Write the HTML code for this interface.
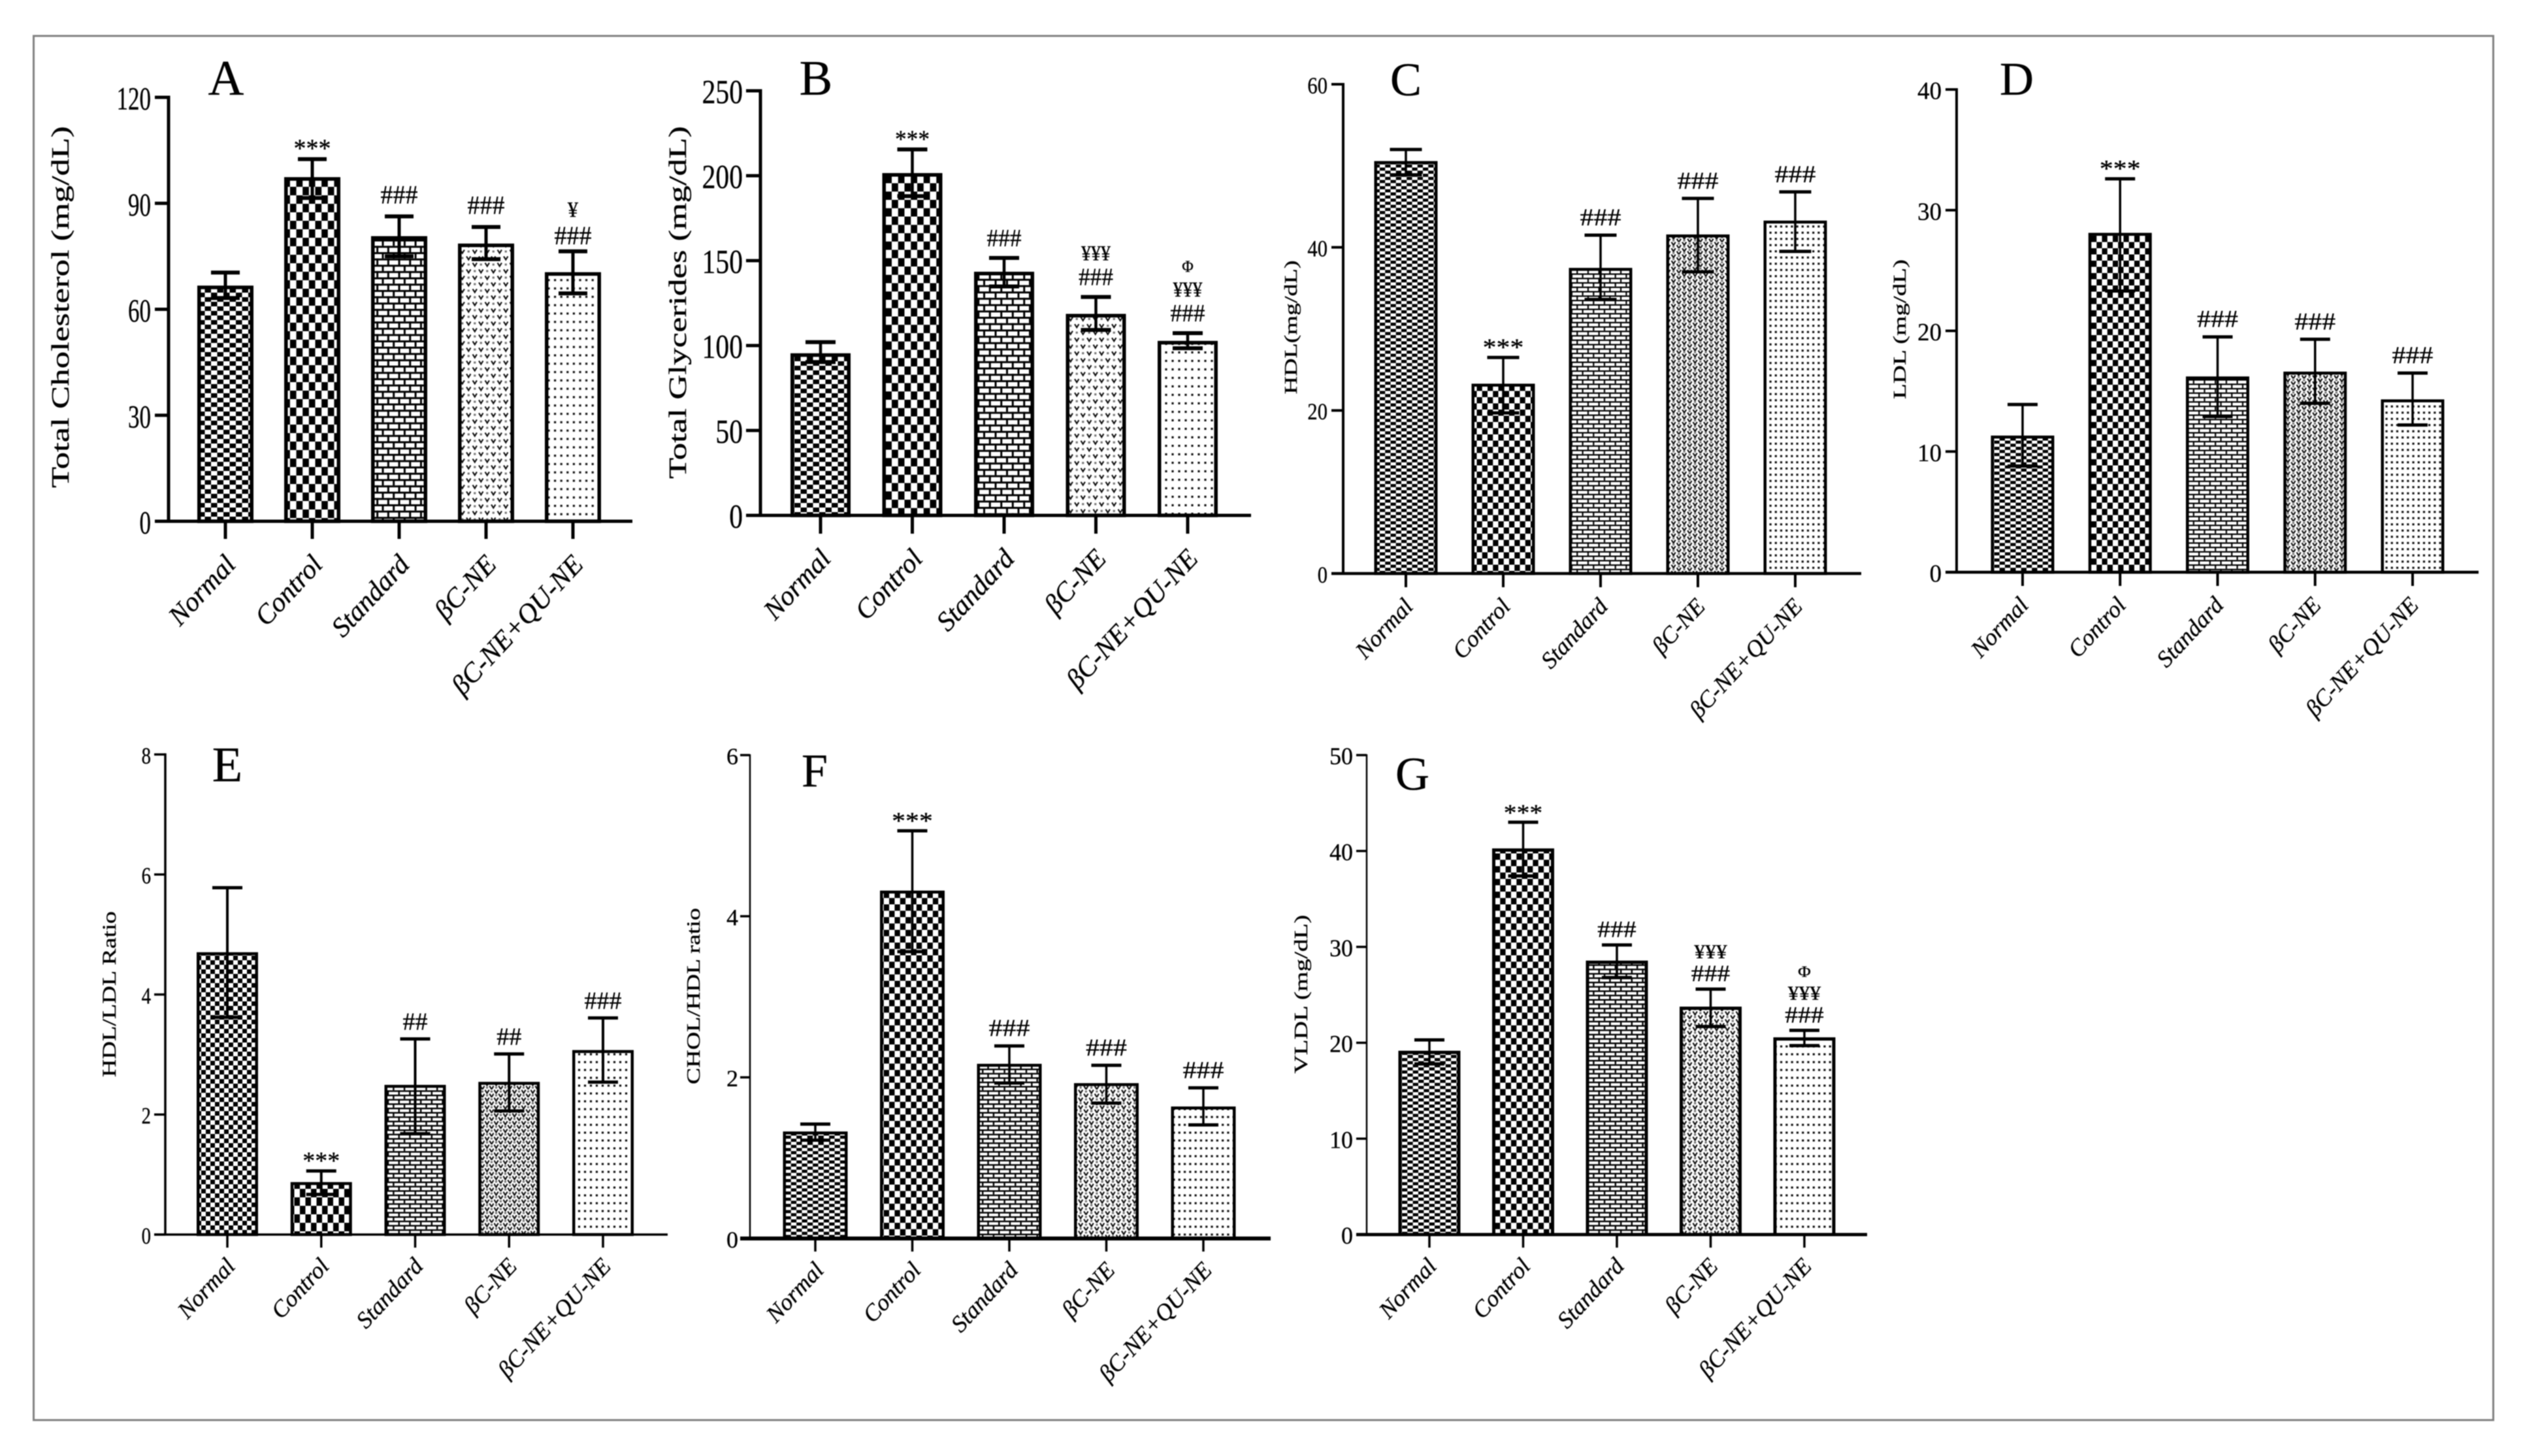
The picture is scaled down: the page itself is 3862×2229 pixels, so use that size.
<!DOCTYPE html>
<html lang="en">
<head>
<meta charset="utf-8">
<title>Lipid profile bar charts</title>
<style>
html,body{margin:0;padding:0;background:#fff;}
body{width:3862px;height:2229px;overflow:hidden;}
svg{display:block;filter:blur(0.7px);}
text{font-family:"Liberation Serif","Noto Serif CJK SC",serif;fill:#000;stroke:#000;stroke-width:0.35px;}
</style>
</head>
<body>
<svg id="figure" xmlns="http://www.w3.org/2000/svg" width="3862" height="2229" viewBox="0 0 3862 2229">
<rect x="0" y="0" width="3862" height="2229" fill="#fff"/>
<rect x="51.5" y="55" width="3765" height="2119" fill="none" stroke="#808080" stroke-width="3"/>
<defs id="defs"></defs>
</svg>
<script>
const categories = ["Normal", "Control", "Standard", "βC-NE", "βC-NE+QU-NE"];

const panelATicks = [0, 30, 60, 90, 120];
const panelAMeans = [66.2, 96.9, 80.2, 78.1, 70];
const panelAUpper = [70.4, 102.5, 86.3, 83.3, 76.4];
const panelALower = [63.2, 91.5, 75, 74.2, 64.5];
const panelAMarks = [[], ["***"], ["###"], ["###"], ["###", "¥"]];

const panelBTicks = [0, 50, 100, 150, 200, 250];
const panelBMeans = [94.4, 200.5, 142.4, 117.6, 101.7];
const panelBUpper = [102, 215.5, 151.6, 128.6, 107.3];
const panelBLower = [90.3, 188, 134.8, 109.2, 98.4];
const panelBMarks = [[], ["***"], ["###"], ["###", "¥¥¥"], ["###", "¥¥¥", "Φ"]];

const panelCTicks = [0, 20, 40, 60];
const panelCMeans = [50.4, 23.1, 37.3, 41.4, 43.1];
const panelCUpper = [52, 26.5, 41.5, 46, 46.8];
const panelCLower = [48.9, 19.7, 33.6, 37, 39.5];
const panelCMarks = [[], ["***"], ["###"], ["###"], ["###"]];

const panelDTicks = [0, 10, 20, 30, 40];
const panelDMeans = [11.2, 28, 16.1, 16.5, 14.2];
const panelDUpper = [13.9, 32.6, 19.5, 19.3, 16.5];
const panelDLower = [8.8, 23.3, 12.9, 14, 12.2];
const panelDMarks = [[], ["***"], ["###"], ["###"], ["###"]];

const panelETicks = [0, 2, 4, 6, 8];
const panelEMeans = [4.68, 0.85, 2.47, 2.52, 3.05];
const panelEUpper = [5.78, 1.06, 3.26, 3.01, 3.61];
const panelELower = [3.62, 0.67, 1.68, 2.06, 2.54];
const panelEMarks = [[], ["***"], ["##"], ["##"], ["###"]];

const panelFTicks = [0, 2, 4, 6];
const panelFMeans = [1.31, 4.3, 2.15, 1.91, 1.62];
const panelFUpper = [1.42, 5.06, 2.39, 2.15, 1.87];
const panelFLower = [1.22, 3.56, 1.93, 1.68, 1.41];
const panelFMarks = [[], ["***"], ["###"], ["###"], ["###"]];

const panelGTicks = [0, 10, 20, 30, 40, 50];
const panelGMeans = [19, 40.1, 28.4, 23.6, 20.4];
const panelGUpper = [20.3, 43, 30.2, 25.6, 21.3];
const panelGLower = [17.8, 37.4, 26.8, 21.7, 19.7];
const panelGMarks = [[], ["***"], ["###"], ["###", "¥¥¥"], ["###", "¥¥¥", "Φ"]];

const NS = "http://www.w3.org/2000/svg";
const svg = document.getElementById("figure");
const defs = document.getElementById("defs");

function mk(tag, attrs, parent) {
  const el = document.createElementNS(NS, tag);
  for (const k in attrs) el.setAttribute(k, attrs[k]);
  parent.appendChild(el);
  return el;
}

function checkerPattern(id, w, h) {
  const p = mk("pattern", {id: id, patternUnits: "userSpaceOnUse", width: w, height: h}, defs);
  mk("rect", {width: w, height: h, fill: "#fff"}, p);
  mk("rect", {x: 0, y: 0, width: w / 2, height: h / 2, fill: "#000"}, p);
  mk("rect", {x: w / 2, y: h / 2, width: w / 2, height: h / 2, fill: "#000"}, p);
}
function brickPattern(id, w, h, m) {
  const p = mk("pattern", {id: id, patternUnits: "userSpaceOnUse", width: w, height: h}, defs);
  mk("rect", {width: w, height: h, fill: "#fff"}, p);
  mk("rect", {x: 0, y: 0, width: w, height: m, fill: "#000"}, p);
  mk("rect", {x: 0, y: h / 2, width: w, height: m, fill: "#000"}, p);
  mk("rect", {x: 0, y: 0, width: m, height: h / 2, fill: "#000"}, p);
  mk("rect", {x: w / 2, y: h / 2, width: m, height: h / 2, fill: "#000"}, p);
}
function veePattern(id, w, h) {
  const p = mk("pattern", {id: id, patternUnits: "userSpaceOnUse", width: w, height: h}, defs);
  mk("rect", {width: w, height: h, fill: "#fff"}, p);
  const s = Math.min(w / 4, 3.2);
  [[w / 4, h / 4], [3 * w / 4, 3 * h / 4]].forEach(function (c) {
    mk("path", {d: "M" + (c[0] - s) + " " + (c[1] - s * 0.8) + "L" + c[0] + " " + (c[1] + s * 0.8) + "L" + (c[0] + s) + " " + (c[1] - s * 0.8), fill: "none", stroke: "#111", "stroke-width": 2.2}, p);
  });
  [[3 * w / 4, h / 4], [w / 4, 3 * h / 4]].forEach(function (c) {
    mk("rect", {x: c[0] - 1.6, y: c[1] - 1.6, width: 3.2, height: 3.2, fill: "#777"}, p);
  });
}
function dotPattern(id, w, h) {
  const p = mk("pattern", {id: id, patternUnits: "userSpaceOnUse", width: w, height: h}, defs);
  mk("rect", {width: w, height: h, fill: "#fff"}, p);
  mk("rect", {x: w / 2 - 1.6, y: h / 2 - 1.6, width: 3.2, height: 3.2, fill: "#111"}, p);
}

function drawPanel(cfg) {
  const id = cfg.letter.toLowerCase();
  const top = cfg.ticks[cfg.ticks.length - 1];
  const yOf = function (v) { return cfg.y0 - (v / top) * (cfg.y0 - cfg.yTop); };
  const xOf = function (i) { return cfg.firstX + i * cfg.stepX; };

  checkerPattern("p-" + id + "-0", cfg.fillNormal[0], cfg.fillNormal[1]);
  checkerPattern("p-" + id + "-1", cfg.fillControl[0], cfg.fillControl[1]);
  brickPattern("p-" + id + "-2", cfg.fillBrick[0], cfg.fillBrick[1], cfg.mortar);
  veePattern("p-" + id + "-3", cfg.fillVee[0], cfg.fillVee[1]);
  dotPattern("p-" + id + "-4", cfg.fillDot[0], cfg.fillDot[1]);

  const g = mk("g", {}, svg);
  
  

  const letter = mk("text", {x: cfg.letterX, y: cfg.letterY, "text-anchor": "middle", "font-size": cfg.letterSize}, g);
  letter.textContent = cfg.letter;
  
  

  const title = mk("text", {
    x: cfg.titleX, y: cfg.titleY, "text-anchor": "middle", "font-size": cfg.titleSize,
    textLength: cfg.titleLen, lengthAdjust: "spacingAndGlyphs",
    transform: "rotate(-90 " + cfg.titleX + " " + cfg.titleY + ")"
  }, g);
  title.textContent = cfg.title;
  
  

  cfg.means.forEach(function (v, i) {
    const inner = cfg.barW - cfg.barStroke;
    const bar = mk("rect", {
      x: xOf(i) - inner / 2, y: yOf(v), width: inner, height: cfg.y0 - yOf(v),
      fill: "url(#p-" + id + "-" + i + ")", stroke: "#000", "stroke-width": cfg.barStroke
    }, g);
    
    
  });

  cfg.means.forEach(function (v, i) {
    const cx = xOf(i);
    const stem = mk("line", {x1: cx, x2: cx, y1: yOf(cfg.upper[i]), y2: yOf(cfg.lower[i]), stroke: "#000", "stroke-width": cfg.stem}, g);
    
    
    const capTop = mk("line", {x1: cx - cfg.capW / 2, x2: cx + cfg.capW / 2, y1: yOf(cfg.upper[i]), y2: yOf(cfg.upper[i]), stroke: "#000", "stroke-width": cfg.capStroke}, g);
    
    
    const capLow = mk("line", {x1: cx - cfg.capW / 2, x2: cx + cfg.capW / 2, y1: yOf(cfg.lower[i]), y2: yOf(cfg.lower[i]), stroke: "#000", "stroke-width": cfg.capStroke}, g);
    
    

    const gap = (cfg.lastGap !== undefined && i === 4) ? cfg.lastGap : cfg.markGap;
    cfg.marks[i].forEach(function (m, k) {
      const isStar = m.charAt(0) === "*";
      const isHash = m.charAt(0) === "#";
      const size = (isStar || isHash) ? cfg.markSize : (m.charAt(0) === "Φ" ? cfg.markSize * 0.68 : cfg.markSize * 0.85);
      const base = yOf(cfg.upper[i]) - (isStar ? 3 : gap) - k * cfg.stackGap;
      const t = mk("text", {"text-anchor": "middle", "font-size": size, transform: "translate(" + cx + " " + base + ") scale(" + cfg.markSx + " 1)"}, g);
      t.textContent = m;
      
      
    });
  });

  const yAxis = mk("line", {x1: cfg.axisX, x2: cfg.axisX, y1: cfg.yTop - cfg.yW / 2, y2: cfg.y0, stroke: "#000", "stroke-width": cfg.yW}, g);
  
  
  const xAxis = mk("line", {x1: cfg.tickLeft, x2: cfg.right, y1: cfg.y0, y2: cfg.y0, stroke: "#000", "stroke-width": cfg.xW}, g);
  
  

  cfg.ticks.forEach(function (v) {
    const y = yOf(v);
    const tick = mk("line", {x1: cfg.tickLeft, x2: cfg.axisX, y1: y, y2: y, stroke: "#000", "stroke-width": cfg.tickStroke}, g);
    
    
    const base = y + cfg.tickSize * 0.33 + 2;
    const lab = mk("text", {"text-anchor": "end", "font-size": cfg.tickSize, transform: "translate(" + cfg.labelEnd + " " + base + ") scale(" + cfg.tickSx + " 1)"}, g);
    lab.textContent = String(v);
    
    
  });

  categories.forEach(function (c, i) {
    const cx = xOf(i);
    const tick = mk("line", {x1: cx, x2: cx, y1: cfg.y0, y2: cfg.y0 + cfg.tickDown, stroke: "#000", "stroke-width": cfg.tickStroke}, g);
    
    
    const lx = cx + cfg.catDx;
    const ly = cfg.y0 + cfg.catDy;
    const lab = mk("text", {x: lx, y: ly, "text-anchor": "end", "font-size": cfg.catSize, "font-style": "italic", transform: "rotate(-47 " + lx + " " + ly + ")"}, g);
    lab.textContent = c;
    
    
  });
}

drawPanel({
  letter: "A", ticks: panelATicks, means: panelAMeans, upper: panelAUpper, lower: panelALower, marks: panelAMarks,
  axisX: 258, y0: 798, yTop: 149, tickLeft: 237, right: 968, firstX: 345, stepX: 133, barW: 86,
  barStroke: 5.5, stem: 5, capW: 44, capStroke: 6, yW: 5, xW: 5, tickStroke: 5, tickDown: 27,
  tickSize: 50, tickSx: 0.7, labelEnd: 231, letterX: 346, letterY: 145, letterSize: 76,
  title: "Total Cholesterol (mg/dL)", titleX: 105, titleY: 470, titleSize: 38, titleLen: 554,
  catSize: 42, catDx: 18, catDy: 68, markSize: 40, markSx: 0.95, markGap: 20, lastGap: 11, stackGap: 42,
  fillNormal: [19, 14], fillControl: [19.3, 26], fillBrick: [16.7, 19.3], mortar: 3, fillVee: [19, 20], fillDot: [9.6, 12.8]
});
drawPanel({
  letter: "B", ticks: panelBTicks, means: panelBMeans, upper: panelBUpper, lower: panelBLower, marks: panelBMarks,
  axisX: 1164, y0: 789, yTop: 139, tickLeft: 1142, right: 1915, firstX: 1256, stepX: 140.5, barW: 92,
  barStroke: 5.5, stem: 4.5, capW: 46, capStroke: 6, yW: 5, xW: 5, tickStroke: 5, tickDown: 28,
  tickSize: 52, tickSx: 0.8, labelEnd: 1137, letterX: 1249, letterY: 145, letterSize: 76,
  title: "Total Glycerides (mg/dL)", titleX: 1050, titleY: 463, titleSize: 38, titleLen: 540,
  catSize: 42, catDx: 18, catDy: 68, markSize: 38, markSx: 0.93, markGap: 18, stackGap: 38,
  fillNormal: [19, 14], fillControl: [19.5, 25.5], fillBrick: [17.5, 19.4], mortar: 3, fillVee: [19, 21], fillDot: [10, 13]
});
drawPanel({
  letter: "C", ticks: panelCTicks, means: panelCMeans, upper: panelCUpper, lower: panelCLower, marks: panelCMarks,
  axisX: 2056, y0: 878, yTop: 129, tickLeft: 2038, right: 2849, firstX: 2152, stepX: 149, barW: 97,
  barStroke: 4.5, stem: 3.5, capW: 49, capStroke: 5, yW: 4, xW: 4.5, tickStroke: 4, tickDown: 21,
  tickSize: 36, tickSx: 0.85, labelEnd: 2032, letterX: 2152, letterY: 146, letterSize: 72,
  title: "HDL(mg/dL)", titleX: 1985, titleY: 501, titleSize: 27, titleLen: 205,
  catSize: 36, catDx: 13, catDy: 52, markSize: 37, markSx: 1.13, markGap: 15, stackGap: 36,
  fillNormal: [16.5, 9.5], fillControl: [16.5, 19], fillBrick: [16.7, 13.5], mortar: 2.2, fillVee: [16.5, 9.5], fillDot: [8.2, 9.5]
});
drawPanel({
  letter: "D", ticks: panelDTicks, means: panelDMeans, upper: panelDUpper, lower: panelDLower, marks: panelDMarks,
  axisX: 2995, y0: 876, yTop: 137, tickLeft: 2978, right: 3794, firstX: 3096, stepX: 149.25, barW: 97,
  barStroke: 4.5, stem: 3.5, capW: 46, capStroke: 5, yW: 4, xW: 4.5, tickStroke: 4, tickDown: 21,
  tickSize: 38, tickSx: 0.97, labelEnd: 2972, letterX: 3087, letterY: 145, letterSize: 72,
  title: "LDL (mg/dL)", titleX: 2917, titleY: 504, titleSize: 27, titleLen: 214,
  catSize: 36, catDx: 11, catDy: 52, markSize: 37, markSx: 1.13, markGap: 15, stackGap: 36,
  fillNormal: [16.5, 9.5], fillControl: [16.5, 19], fillBrick: [16.7, 13.5], mortar: 2.2, fillVee: [16.5, 9.5], fillDot: [8.2, 9.5]
});
drawPanel({
  letter: "E", ticks: panelETicks, means: panelEMeans, upper: panelEUpper, lower: panelELower, marks: panelEMarks,
  axisX: 253, y0: 1890, yTop: 1155, tickLeft: 236, right: 1022, firstX: 348, stepX: 143.75, barW: 94,
  barStroke: 4.5, stem: 4, capW: 46, capStroke: 5, yW: 3.5, xW: 3.5, tickStroke: 3.5, tickDown: 20,
  tickSize: 36, tickSx: 0.8, labelEnd: 231, letterX: 348, letterY: 1196, letterSize: 76,
  title: "HDL/LDL Ratio", titleX: 177, titleY: 1522, titleSize: 30, titleLen: 254,
  catSize: 36, catDx: 14, catDy: 50, markSize: 38, markSx: 1, markGap: 14, stackGap: 36,
  fillNormal: [14, 14], fillControl: [17, 26], fillBrick: [16.7, 13.3], mortar: 2.4, fillVee: [14, 12], fillDot: [9, 12]
});
drawPanel({
  letter: "F", ticks: panelFTicks, means: panelFMeans, upper: panelFUpper, lower: panelFLower, marks: panelFMarks,
  axisX: 1148, y0: 1896, yTop: 1156, tickLeft: 1133, right: 1945, firstX: 1248, stepX: 148.5, barW: 99,
  barStroke: 4.5, stem: 3.5, capW: 46, capStroke: 5, yW: 2.5, xW: 6, tickStroke: 3.5, tickDown: 20,
  tickSize: 36, tickSx: 1, labelEnd: 1130, letterX: 1247, letterY: 1204, letterSize: 72,
  title: "CHOL/HDL ratio", titleX: 1071, titleY: 1525, titleSize: 28, titleLen: 270,
  catSize: 36, catDx: 15, catDy: 50, markSize: 37, markSx: 1.13, markGap: 15, stackGap: 36,
  fillNormal: [16.7, 9.5], fillControl: [16.7, 19.5], fillBrick: [16.7, 13.3], mortar: 2.4, fillVee: [16.5, 12], fillDot: [8.3, 12]
});
drawPanel({
  letter: "G", ticks: panelGTicks, means: panelGMeans, upper: panelGUpper, lower: panelGLower, marks: panelGMarks,
  axisX: 2092, y0: 1890, yTop: 1156, tickLeft: 2076, right: 2858, firstX: 2188, stepX: 143.5, barW: 95,
  barStroke: 5, stem: 3.5, capW: 46, capStroke: 5, yW: 2.5, xW: 5, tickStroke: 3.5, tickDown: 20,
  tickSize: 37, tickSx: 0.97, labelEnd: 2071, letterX: 2162, letterY: 1209, letterSize: 72,
  title: "VLDL  (mg/dL)", titleX: 2001, titleY: 1522, titleSize: 28, titleLen: 243,
  catSize: 36, catDx: 13, catDy: 50, markSize: 36, markSx: 1.1, markGap: 12, stackGap: 35,
  fillNormal: [16.7, 9.5], fillControl: [16.7, 19.5], fillBrick: [16.7, 13.3], mortar: 2.4, fillVee: [16.5, 12], fillDot: [8.3, 12]
});
</script>
</body>
</html>
